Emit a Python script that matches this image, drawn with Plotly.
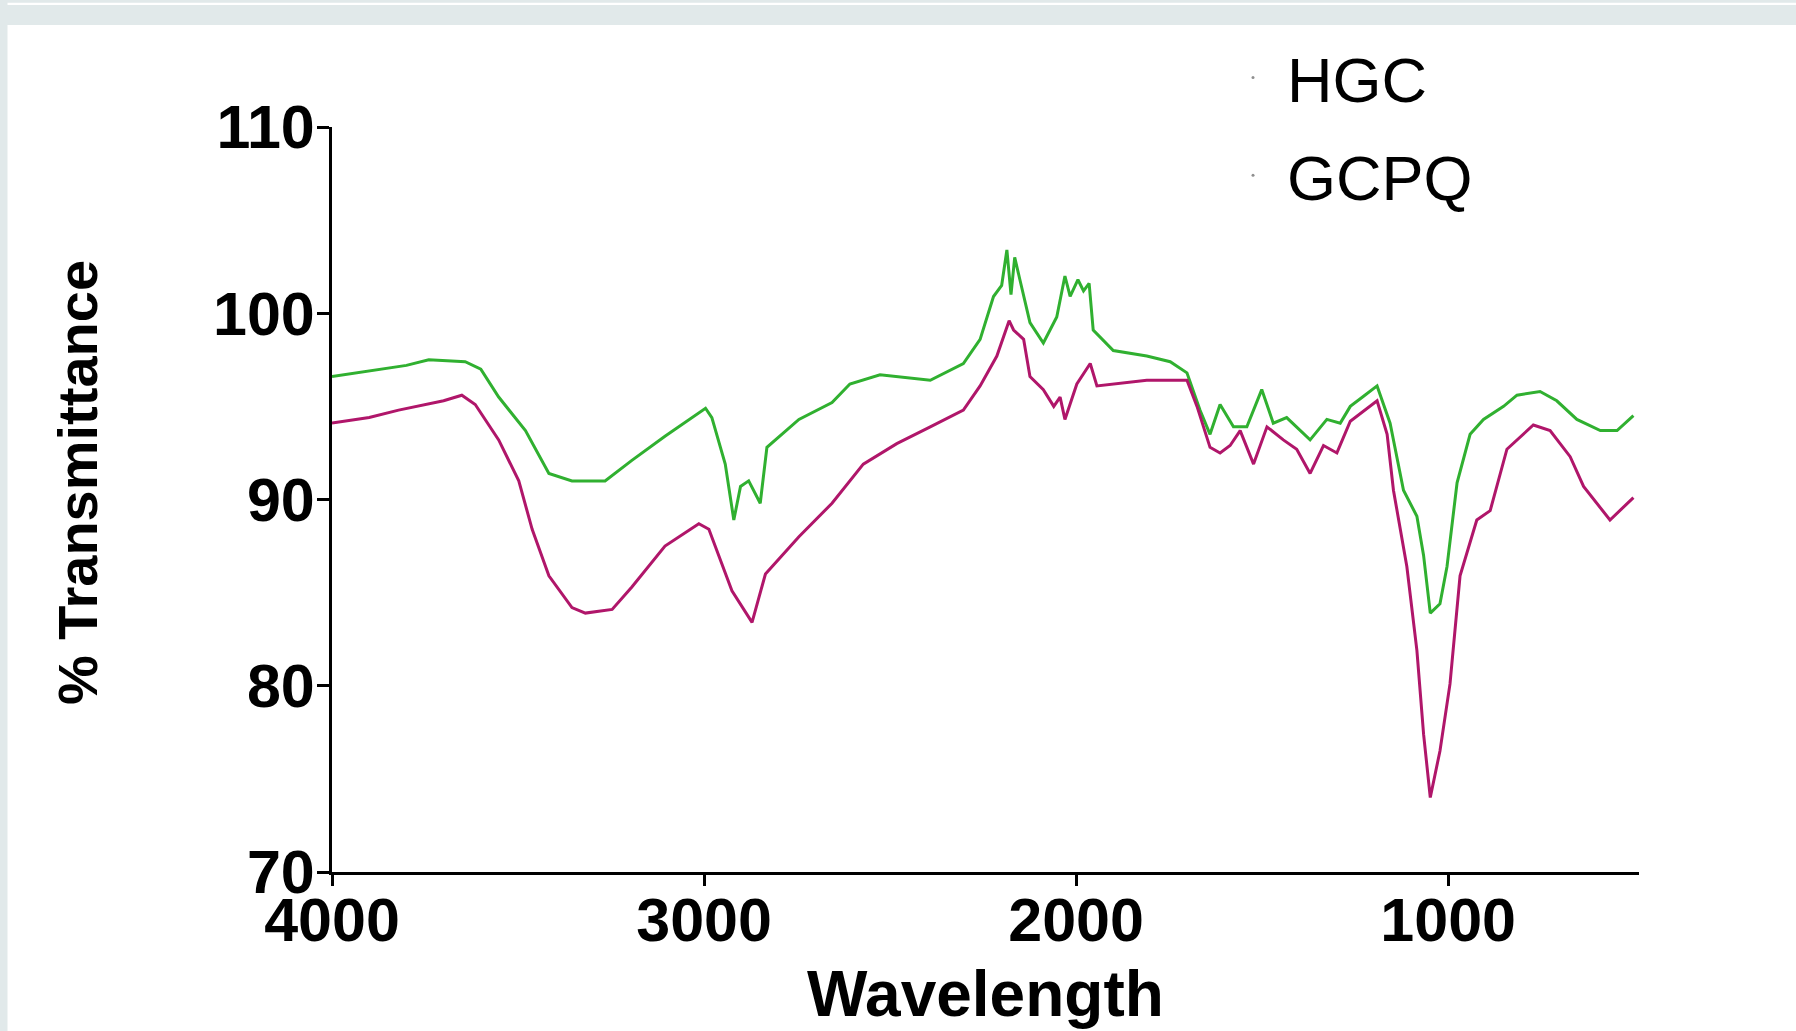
import plotly.graph_objects as go

# ---- data ----
hgc_x = [4000, 3900, 3800, 3740, 3642, 3600, 3552, 3480, 3417, 3355, 3266, 3194, 3105,
         2996, 2979, 2943, 2920, 2902, 2880, 2849, 2831, 2745, 2656, 2608, 2527, 2392,
         2303, 2258, 2222, 2200, 2186, 2175, 2165, 2151, 2124, 2088, 2052, 2030, 2016,
         1995, 1980, 1965, 1954, 1900, 1810, 1747, 1702, 1667, 1640, 1613, 1577, 1541,
         1501, 1470, 1434, 1371, 1326, 1290, 1263, 1230, 1191, 1156, 1120, 1084, 1066,
         1048, 1022, 1003, 976, 941, 905, 851, 815, 753, 708, 654, 591, 546, 502]
hgc_y = [96.6, 96.9, 97.2, 97.5, 97.4, 97.0, 95.5, 93.7, 91.4, 91.0, 91.0, 92.1, 93.4,
         94.9, 94.4, 91.9, 88.9, 90.7, 91.0, 89.8, 92.8, 94.3, 95.2, 96.2, 96.7, 96.4,
         97.3, 98.6, 100.9, 101.5, 103.4, 101.0, 103.0, 101.8, 99.5, 98.4, 99.8, 102.0, 100.9,
         101.8, 101.2, 101.6, 99.1, 98.0, 97.7, 97.4, 96.8, 94.8, 93.5, 95.1, 93.9, 93.9,
         95.9, 94.1, 94.4, 93.2, 94.3, 94.1, 95.0, 95.5, 96.1, 94.1, 90.5, 89.1, 87.0,
         83.9, 84.4, 86.4, 90.9, 93.5, 94.3, 95.0, 95.6, 95.8, 95.3, 94.3, 93.7, 93.7, 94.5]

gcpq_x = [4000, 3900, 3821, 3700, 3651, 3615, 3552, 3498, 3462, 3417, 3355, 3319, 3247,
          3194, 3105, 3014, 2987, 2925, 2871, 2835, 2745, 2656, 2572, 2482, 2392, 2303,
          2258, 2213, 2180, 2168, 2141, 2124, 2088, 2060, 2043, 2030, 1998, 1962, 1944, 1900,
          1810, 1702, 1675, 1640, 1613, 1586, 1559, 1523, 1487, 1443, 1407, 1371, 1335,
          1299, 1263, 1191, 1164, 1147, 1111, 1084, 1066, 1048, 1022, 995, 968, 923, 887,
          842, 771, 726, 672, 636, 565, 502]
gcpq_y = [94.1, 94.4, 94.8, 95.3, 95.6, 95.1, 93.2, 91.0, 88.4, 85.9, 84.2, 83.9, 84.1,
          85.3, 87.5, 88.7, 88.4, 85.1, 83.4, 86.0, 88.0, 89.8, 91.9, 93.0, 93.9, 94.8,
          96.1, 97.7, 99.6, 99.1, 98.6, 96.6, 95.9, 95.0, 95.5, 94.3, 96.2, 97.3, 96.1, 96.2,
          96.4, 96.4, 95.0, 92.8, 92.5, 92.9, 93.7, 91.9, 93.9, 93.2, 92.7, 91.4, 92.9,
          92.5, 94.2, 95.3, 93.5, 90.5, 86.4, 81.9, 77.4, 74.0, 76.5, 80.1, 85.9, 88.9, 89.4,
          92.7, 94.0, 93.7, 92.3, 90.7, 88.9, 90.1]

series_names = ["HGC", "GCPQ"]
series_colors = ["#30b030", "#b0166a"]
x_ticks = [4000, 3000, 2000, 1000]
y_ticks = [70, 80, 90, 100, 110]
x_title = "Wavelength"
y_title = "% Transmittance"

W, H = 1796, 1031
L, R, T, B = 332, 1639, 127, 872


def px_x(p):
    return (p - L) / (R - L)


def px_y(p):
    return (B - p) / (B - T)


fig = go.Figure()
for i, (xs, ys) in enumerate([(hgc_x, hgc_y), (gcpq_x, gcpq_y)]):
    fig.add_trace(go.Scatter(x=xs, y=ys, mode="lines", name=series_names[i], showlegend=False,
                             line=dict(color=series_colors[i], width=3)))
    fig.add_trace(go.Scatter(x=[None], y=[None], mode="markers", name=series_names[i],
                             legendgroup=series_names[i],
                             marker=dict(color="#8f8f8f", size=3)))

font_family = "Liberation Sans, Arial, sans-serif"

fig.update_layout(
    width=W, height=H,
    margin=dict(l=L, r=W - R, t=T, b=H - B, autoexpand=False),
    paper_bgcolor="white", plot_bgcolor="white",
    font=dict(family=font_family, color="black"),
    legend=dict(x=px_x(1219), y=px_y(30), xanchor="left", yanchor="top",
                font=dict(size=63, family=font_family, color="black"),
                bgcolor="rgba(0,0,0,0)", tracegroupgap=13, traceorder="grouped",
                itemwidth=58),
    xaxis=dict(range=[4000, 487], tickvals=x_ticks, ticktext=[str(v) for v in x_ticks],
               showgrid=False, zeroline=False, showline=True, linecolor="black", linewidth=3,
               ticks="outside", ticklen=11, tickwidth=3, tickcolor="black",
               ticklabelstandoff=-18,
               tickfont=dict(size=61, family=font_family, weight="bold")),
    yaxis=dict(range=[70, 110], tickvals=y_ticks, ticktext=[str(v) for v in y_ticks],
               showgrid=False, zeroline=False, showline=True, linecolor="black", linewidth=3,
               ticks="outside", ticklen=12, tickwidth=3, tickcolor="black",
               ticklabelstandoff=-10,
               tickfont=dict(size=61, family=font_family, weight="bold")),
    annotations=[
        dict(text=x_title, xref="paper", yref="paper", x=px_x(985), y=px_y(994),
             xanchor="center", yanchor="middle", showarrow=False,
             font=dict(size=64, family=font_family, weight="bold", color="black")),
        dict(text=y_title, xref="paper", yref="paper", x=px_x(78), y=px_y(483),
             xanchor="center", yanchor="middle", showarrow=False, textangle=-90,
             font=dict(size=56, family=font_family, weight="bold", color="black")),
    ],
    shapes=[
        dict(type="rect", xref="paper", yref="paper", x0=px_x(0), x1=px_x(W), y0=px_y(0), y1=px_y(25),
             fillcolor="#e1e9ea", line=dict(width=0), layer="below"),
        dict(type="rect", xref="paper", yref="paper", x0=px_x(0), x1=px_x(W), y0=px_y(2.7), y1=px_y(5),
             fillcolor="white", line=dict(width=0), layer="below"),
        dict(type="rect", xref="paper", yref="paper", x0=px_x(0), x1=px_x(7.5), y0=px_y(0), y1=px_y(H),
             fillcolor="#e1e9ea", line=dict(width=0), layer="below"),
    ],
)

fig.write_html("out.html", config={"displayModeBar": False},
               post_script="document.body.style.margin='0';document.body.style.overflow='hidden';")
